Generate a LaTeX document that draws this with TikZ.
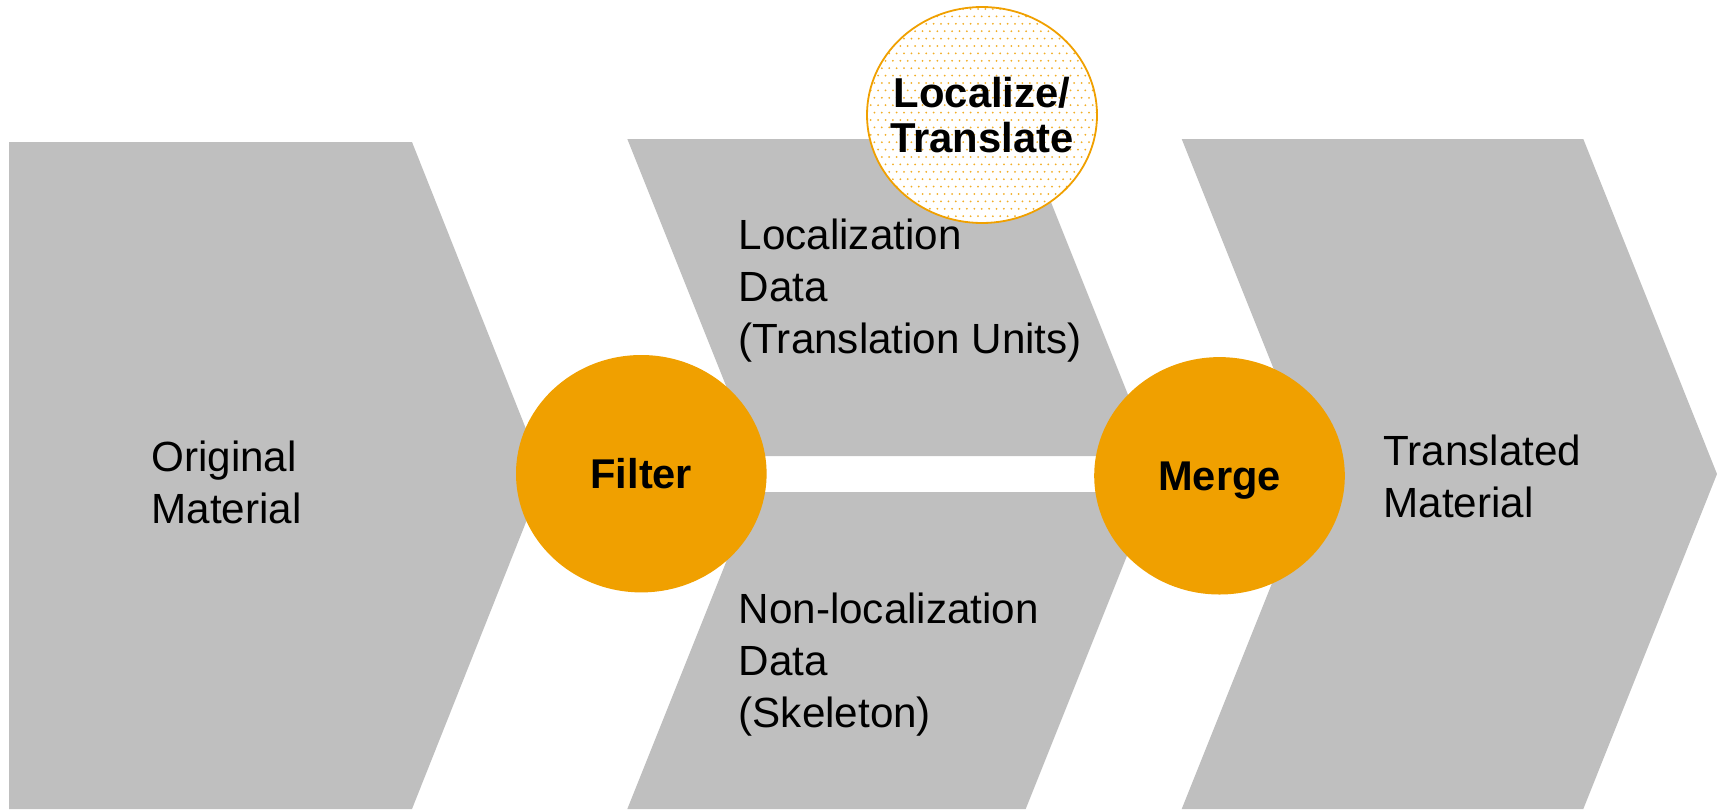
\documentclass[tikz,border=0pt]{standalone}
\usepackage{fontspec}
\setmainfont{Liberation Sans}
\usetikzlibrary{shapes.geometric}
\definecolor{grayfill}{HTML}{BFBFBF}
\definecolor{orng}{HTML}{F0A000}
\begin{document}
\begin{tikzpicture}[x=0.5pt,y=-0.5pt,
  band/.style={fill=grayfill, draw=none},
  lbl/.style={anchor=base west, align=left, inner sep=0pt, font=\fontsize{21.1}{25.9}\selectfont},
  hub/.style={ellipse, fill=orng, draw=none, minimum width=125.3pt, minimum height=118.7pt, inner sep=0pt,
    text depth=0pt, font=\fontsize{20.8}{22.4}\selectfont\bfseries},
  lochub/.style={ellipse, draw=orng, line width=0.9pt, fill=white, minimum width=115pt, minimum height=108pt,
    inner xsep=-12pt, inner ysep=-6pt, align=center, font=\fontsize{20.9}{22.35}\selectfont\bfseries,
    path picture={
      \foreach \j [evaluate=\j as \off using {mod(\j,2)*1.85}] in {0,...,31}{
        \foreach \i in {0,...,33}{
          \fill[orng!85] ([xshift=\i*3.7pt+\off pt, yshift=-\j*3.7pt-1pt]path picture bounding box.north west) circle (0.5pt);
        }
      }
    }}
]
\useasboundingbox (0,0) rectangle (1717,809);

% chevron bands
\fill[band] (9,142) -- (412,142) -- (544.5,475.5) -- (412,809) -- (9,809) -- cycle;
\fill[band] (627.3,139) -- (1025.7,139) -- (1152.5,456) -- (754.1,456) -- cycle;
\fill[band] (754.1,492) -- (1152.5,492) -- (1025.7,809) -- (627.3,809) -- cycle;
\fill[band] (1181.7,139) -- (1583.3,139) -- (1717,474) -- (1583.3,809) -- (1181.7,809) -- (1315.7,474) -- cycle;

% labels (base anchor = baseline of last line)
\node[lbl] (orig) at (151,523) {Original\\Material};
\node[lbl] (locdata) at (738.3,353.5) {Localization\\Data\\(Translation Units)};
\node[lbl] (skel) at (738.3,727.5) {Non-localization\\Data\\(Skeleton)};
\node[lbl] (trans) at (1383,517) {Translated\\Material};

% hubs
\node[hub] (filter) at (641.3,473.7) {Filter};
\node[hub] (merge) at (1219.5,475.8) {Merge};
\node[lochub] (localize) at (982,115) {Localize/\\Translate};
\end{tikzpicture}
\end{document}
